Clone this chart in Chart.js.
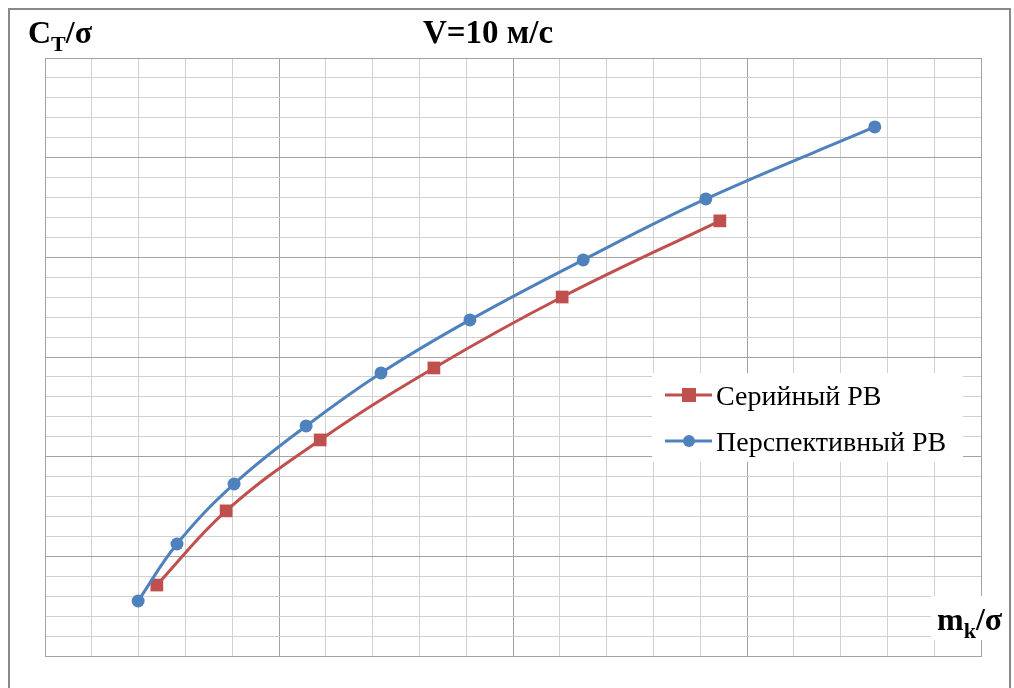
<!DOCTYPE html>
<html>
<head>
<meta charset="utf-8">
<script src="https://cdn.jsdelivr.net/npm/chart.js@4"></script>
<style>
  html, body { margin: 0; padding: 0; background: #fff; }
  #wrap { width: 1014px; height: 688px; }
</style>
</head>
<body>
<div id="wrap"><canvas id="chart" width="1014" height="688"></canvas></div>
<script>
// values (axis has no numbers, grid cell = 1 unit)
const serialX = [2.39, 3.87, 5.88, 8.31, 11.05, 14.42];
const serialY = [3.56, 7.28, 10.84, 14.45, 18.01, 21.83];
const perspX = [1.99, 2.82, 4.04, 5.58, 7.18, 9.08, 11.5, 14.12, 17.73];
const perspY = [2.76, 5.62, 8.63, 11.54, 14.2, 16.86, 19.87, 22.93, 26.54];
const seriesNames = ["Серийный РВ", "Перспективный РВ"];
const titleText = "V=10 м/с";

const RED = "#C0504D";
const BLUE = "#4F81BD";

function toPoints(xs, ys) {
	return xs.map(function (x, i) {
		return { x: x, y: ys[i] };
	});
}

function gridColor(ctx) {
	return ctx.tick && ctx.tick.value % 5 === 0 ? "#a3a3a3" : "#d0d0d0";
}

// draws "Base_sub/σ" at x, baseline y
function subLabel(c, base, sub, x, y, big, small) {
	c.font = "bold " + big + "px 'Liberation Serif'";
	c.fillText(base, x, y);
	x += c.measureText(base).width;
	c.font = "bold " + small + "px 'Liberation Serif'";
	c.fillText(sub, x, y + 8);
	x += c.measureText(sub).width;
	c.font = "bold " + big + "px 'Liberation Serif'";
	c.fillText("/σ", x, y);
}

// frame, title, axis names and legend box
const decor = {
	id: "decor",
	beforeDraw(chart) {
		const c = chart.ctx;
		c.save();
		c.fillStyle = "#fff";
		c.fillRect(0, 0, chart.width, chart.height);
		c.strokeStyle = "#8a8a8a";
		c.lineWidth = 2;
		c.strokeRect(9, 9, 1001, 700);
		c.restore();
	},
	afterDraw(chart) {
		const c = chart.ctx;
		c.save();
		c.fillStyle = "#000";
		c.textBaseline = "alphabetic";

		// title
		c.font = "bold 33px 'Liberation Serif'";
		c.textAlign = "center";
		c.fillText(titleText, 488, 43);

		c.textAlign = "left";
		subLabel(c, "C", "T", 28, 43, 32, 22);

		// x axis name on a white patch
		c.fillStyle = "#fff";
		c.fillRect(931, 596, 76, 44);
		c.fillStyle = "#000";
		subLabel(c, "m", "k", 937, 630, 32, 22);

		// legend
		c.fillStyle = "#fff";
		c.fillRect(652, 373, 311, 89);
		const rows = [
			{ y: 395, color: RED, shape: "rect" },
			{ y: 441, color: BLUE, shape: "circle" }
		];
		c.font = "28px 'Liberation Serif'";
		for (let i = 0; i < rows.length; i++) {
			const r = rows[i];
			c.strokeStyle = r.color;
			c.lineWidth = 3;
			c.beginPath();
			c.moveTo(665, r.y);
			c.lineTo(712, r.y);
			c.stroke();
			c.fillStyle = r.color;
			if (r.shape === "rect") {
				c.fillRect(682, r.y - 7, 14, 14);
			} else {
				c.beginPath();
				c.arc(689, r.y, 6, 0, Math.PI * 2);
				c.fill();
			}
			c.fillStyle = "#000";
			c.fillText(seriesNames[i], 716, r.y + 10);
		}
		c.restore();
	}
};

new Chart(document.getElementById("chart"), {
	type: "line",
	data: {
		datasets: [
			{
				label: seriesNames[0],
				data: toPoints(serialX, serialY),
				borderColor: RED,
				backgroundColor: RED,
				borderWidth: 3,
				pointStyle: "rect",
				pointRadius: 9,
				pointBorderWidth: 0,
				tension: 0.4,
				order: 2
			},
			{
				label: seriesNames[1],
				data: toPoints(perspX, perspY),
				borderColor: BLUE,
				backgroundColor: BLUE,
				borderWidth: 3,
				pointStyle: "circle",
				pointRadius: 6.5,
				pointBorderWidth: 0,
				tension: 0.4,
				order: 1
			}
		]
	},
	options: {
		responsive: false,
		animation: false,
		devicePixelRatio: 1,
		layout: { padding: { left: 45, top: 58, right: 33, bottom: 32 } },
		plugins: {
			legend: { display: false },
			tooltip: { enabled: false }
		},
		scales: {
			x: {
				type: "linear",
				min: 0,
				max: 20,
				ticks: { display: false, stepSize: 1 },
				grid: { color: gridColor, lineWidth: 1, drawTicks: false },
				border: { color: "#a3a3a3", width: 1 }
			},
			y: {
				type: "linear",
				min: 0,
				max: 30,
				ticks: { display: false, stepSize: 1 },
				grid: { color: gridColor, lineWidth: 1, drawTicks: false },
				border: { color: "#a3a3a3", width: 1 }
			}
		}
	},
	plugins: [decor]
});
</script>
</body>
</html>
